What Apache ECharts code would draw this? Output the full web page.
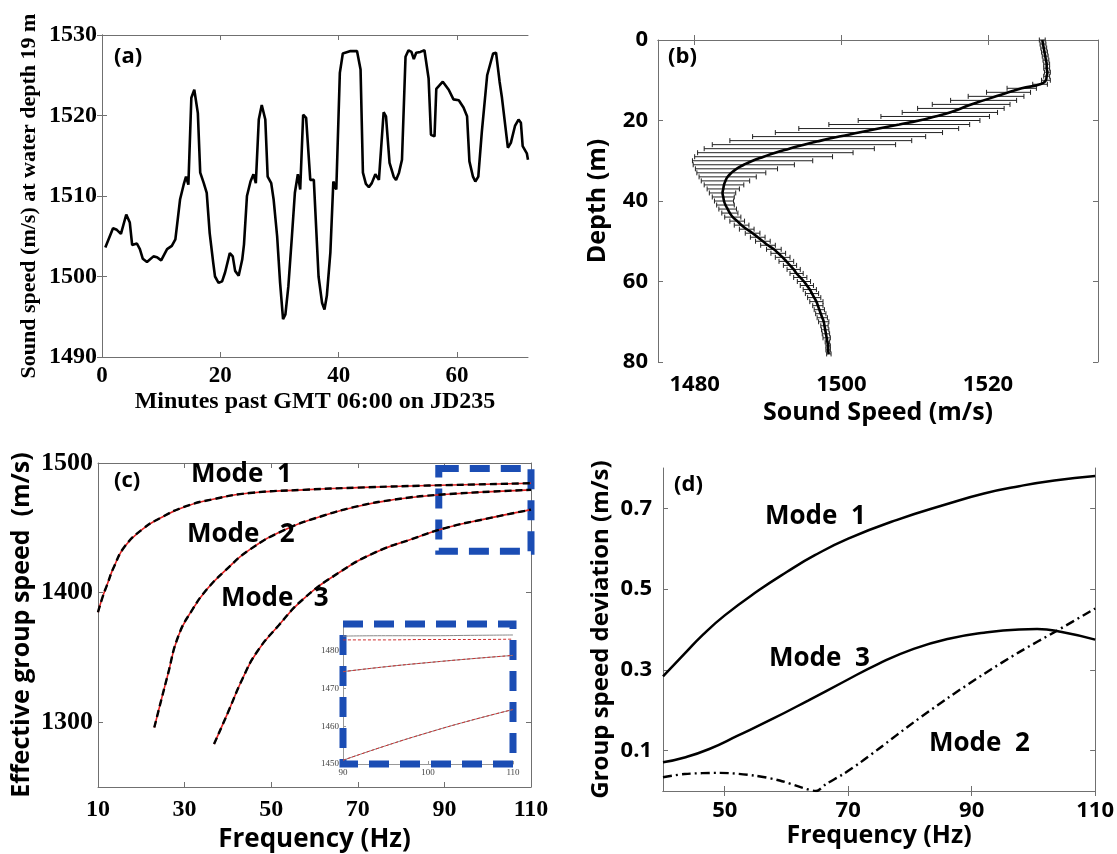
<!DOCTYPE html>
<html>
<head>
<meta charset="utf-8">
<script src="https://cdn.jsdelivr.net/npm/echarts@6/dist/echarts.min.js"></script>
<style>
  html, body { margin: 0; padding: 0; background: #fff; }
  #main { width: 1117px; height: 854px; }
</style>
</head>
<body>
<div id="main"></div>
<script>
// (a) sound speed time series at 19 m
var aMinutes = [0.56, 1.1, 1.86, 2.5, 3.2, 4.1, 4.7, 5.1, 5.9, 6.4, 6.9, 7.6, 8.7, 9.3, 10.0, 11.0, 11.8, 12.4, 12.8, 13.2,
  13.8, 14.2, 14.6, 15.1, 15.6, 16.2, 16.6, 17.2, 17.7, 18.2, 18.8, 19.1, 19.7, 20.3, 20.8, 21.6, 22.1, 22.5, 23.1, 23.7,
  24.0, 24.5, 25.1, 25.6, 26.0, 26.5, 27.0, 27.6, 28.0, 28.6, 29.0, 29.6, 30.1, 30.6, 31.0, 31.5, 32.1, 32.6, 33.1, 33.5,
  34.0, 34.5, 35.2, 35.8, 36.6, 37.2, 37.6, 38.0, 38.6, 39.1, 39.6, 40.2, 40.7, 42.0, 43.1, 43.7, 44.1, 44.6, 45.1, 45.6,
  46.2, 46.8, 47.6, 48.0, 48.6, 49.3, 49.7, 50.2, 50.7, 51.3, 51.8, 52.3, 52.7, 53.1, 53.8, 54.5, 54.8, 55.2, 55.6, 56.2,
  56.5, 57.6, 58.6, 59.4, 60.3, 61.1, 61.7, 62.1, 62.7, 63.1, 63.6, 64.2, 65.1, 66.1, 66.6, 67.2, 67.6, 68.6, 69.1, 69.8,
  70.4, 70.8, 71.1, 71.8, 72.0];
var aSpeed = [1503.6, 1504.6, 1506.0, 1505.8, 1505.3, 1507.7, 1506.7, 1503.9, 1504.1, 1503.4, 1502.2, 1501.8, 1502.5, 1502.4, 1502.0, 1503.4, 1503.8, 1504.6, 1507.1, 1509.6,
  1511.4, 1512.4, 1511.4, 1522.2, 1523.2, 1520.3, 1512.9, 1511.6, 1510.4, 1505.4, 1501.7, 1500.0, 1499.2, 1499.4, 1500.5, 1502.9, 1502.5, 1500.7, 1500.1, 1502.1,
  1504.0, 1510.0, 1511.8, 1512.7, 1511.6, 1519.5, 1521.3, 1519.5, 1512.4, 1511.6, 1509.6, 1505.0, 1499.2, 1494.7, 1495.3, 1498.8, 1505.0, 1510.4, 1512.7, 1510.8,
  1520.1, 1519.7, 1512.0, 1512.0, 1500.0, 1496.7, 1495.9, 1497.6, 1503.0, 1511.8, 1510.8, 1525.3, 1527.7, 1528.0, 1528.0, 1525.7, 1512.9, 1511.5, 1511.1, 1511.6,
  1512.7, 1512.0, 1520.4, 1519.9, 1514.1, 1512.4, 1512.0, 1512.9, 1514.5, 1527.3, 1528.1, 1527.9, 1527.0, 1527.8, 1527.9, 1528.1, 1527.9, 1524.6, 1517.6, 1517.4,
  1523.3, 1524.2, 1523.2, 1522.0, 1521.9, 1521.0, 1519.9, 1514.3, 1512.4, 1511.8, 1512.4, 1518.0, 1525.0, 1527.7, 1527.8, 1524.2, 1522.2, 1516.0, 1516.6, 1518.7,
  1519.5, 1519.1, 1516.2, 1515.3, 1514.5];

// (b) mean profile and spread, one value per metre
var bDepth = [0, 1, 2, 3, 4, 5, 6, 7, 8, 9, 10, 11, 12, 13, 14, 15, 16, 17, 18, 19, 20, 21, 22, 23, 24, 25, 26, 27, 28, 29,
  30, 31, 32, 33, 34, 35, 36, 37, 38, 39, 40, 41, 42, 43, 44, 45, 46, 47, 48, 49, 50, 51, 52, 53, 54, 55, 56, 57, 58, 59,
  60, 61, 62, 63, 64, 65, 66, 67, 68, 69, 70, 71, 72, 73, 74, 75, 76, 77, 78];
var bMean = [1527.4, 1527.5, 1527.6, 1527.7, 1527.8, 1527.9, 1528.0, 1528.0, 1528.1, 1528.0, 1527.9, 1527.1, 1524.6, 1522.8, 1521.1, 1519.4, 1517.7, 1516.3, 1514.8, 1512.8,
  1510.6, 1507.9, 1505.1, 1502.4, 1499.7, 1497.2, 1494.9, 1492.9, 1491.0, 1489.4, 1487.9, 1486.7, 1485.7, 1485.0, 1484.5, 1484.2, 1484.0, 1483.9, 1483.8, 1483.9,
  1484.0, 1484.2, 1484.5, 1484.8, 1485.2, 1485.8, 1486.4, 1487.1, 1487.9, 1488.6, 1489.3, 1490.0, 1490.8, 1491.4, 1492.0, 1492.5, 1493.0, 1493.5, 1493.9, 1494.4,
  1494.9, 1495.3, 1495.7, 1496.0, 1496.3, 1496.6, 1496.8, 1497.0, 1497.2, 1497.4, 1497.6, 1497.7, 1497.8, 1497.9, 1498.0, 1498.1, 1498.2, 1498.2, 1498.3];
var bStd = [0.4, 0.4, 0.4, 0.4, 0.4, 0.4, 0.4, 0.4, 0.4, 0.4, 0.6, 1.0, 2.0, 3.0, 3.8, 4.5, 5.3, 5.9, 6.5, 7.4,
  8.3, 9.6, 10.9, 11.4, 11.8, 12.4, 12.5, 11.6, 10.6, 9.4, 8.2, 6.9, 5.6, 4.7, 3.9, 3.3, 2.7, 2.2, 1.8, 1.5,
  1.3, 1.2, 1.2, 1.1, 1.1, 1.0, 1.0, 1.0, 1.0, 1.0, 1.0, 1.0, 1.0, 1.0, 1.0, 1.0, 0.9, 0.9, 0.9, 0.9,
  0.9, 0.9, 0.9, 0.9, 0.9, 0.9, 0.7, 0.7, 0.7, 0.7, 0.7, 0.5, 0.5, 0.5, 0.5, 0.3, 0.3, 0.3, 0.3];

// (c) effective group speed per mode
var cFreq1 = [10, 11, 12.1, 13.7, 16.2, 20.3, 24.4, 30.2, 36.8, 45, 57.4, 69.8, 86.3, 110];
var cSpeed1 = [1384.8, 1396, 1406, 1420, 1435.7, 1449, 1457.6, 1466.5, 1472.2, 1476.8, 1479.3, 1481, 1482.6, 1484.4];
var cFreq2 = [23.0, 26.1, 28.6, 31.9, 35.2, 39.3, 45.1, 53.3, 61.6, 69.8, 78.1, 88.8, 110];
var cSpeed2 = [1295.9, 1336.3, 1366.9, 1387.4, 1402.7, 1416.7, 1433.3, 1448.7, 1458.9, 1466.5, 1471.6, 1475.5, 1479.3];
var cFreq3 = [36.8, 40.1, 43.4, 46.7, 51.7, 57.4, 65.7, 73.9, 82.2, 90.4, 98.7, 110];
var cSpeed3 = [1283.1, 1308.2, 1333.7, 1354.2, 1374.6, 1395.0, 1415.5, 1430.8, 1441.0, 1450.0, 1456.3, 1464.0];

// (c) inset, 90-110 Hz
var inFreq = [90, 95, 100, 105, 110];
var inMode1Black = [1483.8, 1483.9, 1483.9, 1484.0, 1484.1];
var inMode1Red = [1482.8, 1482.8, 1482.9, 1482.9, 1483.0];
var inMode2 = [1474.4, 1475.7, 1476.8, 1477.8, 1478.7];
var inMode3 = [1451.0, 1454.8, 1458.3, 1461.5, 1464.4];
var zoomBox = [[88.7, 1495.7], [110.2, 1431.9]];

// (d) group speed deviation per mode
var dFreq1 = [40, 43.5, 46.4, 50, 55.5, 60.1, 64.6, 70, 77.8, 86.3, 92, 97.7, 103.4, 110];
var dDev1 = [0.284, 0.340, 0.386, 0.435, 0.497, 0.543, 0.584, 0.625, 0.671, 0.712, 0.737, 0.755, 0.769, 0.780];
var dFreq2 = [40, 43.5, 49.2, 54.9, 58.9, 62.4, 64.8, 66.4, 69.2, 72, 74.9, 80.6, 86.3, 92, 97.7, 103.7, 110];
var dDev2 = [0.034, 0.042, 0.045, 0.038, 0.026, 0.009, 0.0, 0.017, 0.042, 0.071, 0.104, 0.17, 0.232, 0.29, 0.344, 0.396, 0.452];
var dFreq3 = [40, 43.5, 47.5, 52.1, 57.8, 63.5, 69.2, 74.9, 80.6, 86.3, 92, 97.7, 100.6, 104.6, 110];
var dDev3 = [0.071, 0.083, 0.104, 0.137, 0.179, 0.224, 0.270, 0.315, 0.352, 0.377, 0.392, 0.400, 0.401, 0.394, 0.375];

var SANS = "'Open Sans', 'DejaVu Sans', sans-serif";
var SERIF = "'Liberation Serif', 'DejaVu Serif', serif";
var AXIS_COLOR = '#707070';
var BLUE = '#1b4db4';

function pairs(xs, ys) {
  return xs.map(function (x, i) { return [x, ys[i]]; });
}

function plain(v) { return String(v); }

// main axis plus a mirrored one (matlab style box with ticks on all sides)
function axisPair(kind, grid, min, max, ticks, label, name, nameCfg, extra) {
  var main = {
    type: 'value', gridIndex: grid, min: min, max: max,
    position: kind === 'x' ? 'bottom' : 'left',
    splitLine: { show: false },
    axisLine: { lineStyle: { color: AXIS_COLOR, width: 1 } },
    axisTick: { inside: true, length: 5, customValues: ticks, lineStyle: { color: AXIS_COLOR } },
    axisLabel: Object.assign({ customValues: ticks, color: '#000', fontWeight: 'bold', formatter: plain }, label),
    name: name, nameLocation: 'middle',
    nameGap: nameCfg.gap,
    nameTextStyle: { fontFamily: nameCfg.font, fontWeight: 'bold', fontSize: nameCfg.size, color: '#000' }
  };
  var mirror = {
    type: 'value', gridIndex: grid, min: min, max: max,
    position: kind === 'x' ? 'top' : 'right',
    splitLine: { show: false },
    axisLine: { lineStyle: { color: AXIS_COLOR, width: 1 } },
    axisTick: { inside: true, length: 5, customValues: ticks, lineStyle: { color: AXIS_COLOR } },
    axisLabel: { show: false }
  };
  if (extra) { Object.assign(main, extra); Object.assign(mirror, extra); }
  return [main, mirror];
}

var xAxes = [].concat(
  axisPair('x', 0, 0, 72, [0, 20, 40, 60], { fontFamily: SERIF, fontSize: 23, margin: 8 },
    'Minutes past GMT 06:00 on JD235', { gap: 33, font: SERIF, size: 24 }),
  axisPair('x', 1, 1475, 1535, [1480, 1500, 1520], { fontFamily: SANS, fontSize: 22, margin: 12 },
    'Sound Speed (m/s)', { gap: 38, font: SANS, size: 25 }),
  axisPair('x', 2, 10, 110, [10, 30, 50, 70, 90, 110], { fontFamily: SERIF, fontSize: 24, margin: 11 },
    'Frequency (Hz)', { gap: 40, font: SANS, size: 26 }),
  axisPair('x', 3, 40, 110, [50, 70, 90, 110], { fontFamily: SANS, fontSize: 22, margin: 9 },
    'Frequency (Hz)', { gap: 31, font: SANS, size: 25 })
);
xAxes.push({
  type: 'value', gridIndex: 4, min: 90, max: 110,
  splitLine: { show: false },
  axisLine: { lineStyle: { color: '#999', width: 1 } },
  axisTick: { inside: true, length: 3, customValues: [90, 100, 110], lineStyle: { color: '#999' } },
  axisLabel: { customValues: [90, 100, 110], formatter: plain, fontFamily: SERIF, fontSize: 9, color: '#444', margin: 4 }
});

var yAxes = [].concat(
  axisPair('y', 0, 1490, 1530, [1490, 1500, 1510, 1520, 1530], { fontFamily: SERIF, fontSize: 24, margin: 5 },
    'Sound speed (m/s) at water depth 19 m', { gap: 62, font: SERIF, size: 22 }),
  axisPair('y', 1, 0, 80, [0, 20, 40, 60, 80], { fontFamily: SANS, fontSize: 22, margin: 10 },
    'Depth (m)', { gap: 48, font: SANS, size: 25 }, { inverse: true }),
  axisPair('y', 2, 1250, 1500, [1300, 1400, 1500], { fontFamily: SERIF, fontSize: 26, margin: 5 },
    'Effective group speed  (m/s)', { gap: 64, font: SANS, size: 25 }),
  axisPair('y', 3, 0, 0.8, [0.1, 0.3, 0.5, 0.7], { fontFamily: SANS, fontSize: 22, margin: 11 },
    'Group speed deviation (m/s)', { gap: 50, font: SANS, size: 24 })
);
yAxes.push({
  type: 'value', gridIndex: 4, min: 1450, max: 1487,
  splitLine: { show: false },
  axisLine: { lineStyle: { color: '#999', width: 1 } },
  axisTick: { inside: true, length: 3, customValues: [1450, 1460, 1470, 1480], lineStyle: { color: '#999' } },
  axisLabel: { customValues: [1450, 1460, 1470, 1480], formatter: plain, fontFamily: SERIF, fontSize: 9, color: '#444', margin: 4 }
});

function errorBars(params, api) {
  var d = api.value(0);
  var p1 = api.coord([api.value(1), d]);
  var p2 = api.coord([api.value(2), d]);
  var h = 2.5;
  var st = { stroke: '#222', lineWidth: 1 };
  return {
    type: 'group',
    children: [
      { type: 'line', shape: { x1: p1[0], y1: p1[1], x2: p2[0], y2: p2[1] }, style: st },
      { type: 'line', shape: { x1: p1[0], y1: p1[1] - h, x2: p1[0], y2: p1[1] + h }, style: st },
      { type: 'line', shape: { x1: p2[0], y1: p2[1] - h, x2: p2[0], y2: p2[1] + h }, style: st }
    ]
  };
}

function modeLine(xIdx, xs, ys, opts) {
  return Object.assign({
    type: 'line', xAxisIndex: xIdx, yAxisIndex: xIdx,
    data: pairs(xs, ys), showSymbol: false, smooth: true, silent: true,
    lineStyle: { color: '#000', width: 2.5 }
  }, opts);
}

var boxStyle = { color: 'rgba(0,0,0,0)', borderColor: BLUE, borderWidth: 7, borderType: [20, 11] };

var series = [
  // (a)
  modeLine(0, aMinutes, aSpeed, { smooth: false, lineStyle: { color: '#000', width: 2.6 } }),
  // (b)
  {
    type: 'custom', xAxisIndex: 2, yAxisIndex: 2, silent: true,
    renderItem: errorBars,
    encode: { x: [1, 2], y: 0 },
    data: bDepth.map(function (d, i) { return [d, bMean[i] - bStd[i], bMean[i] + bStd[i]]; })
  },
  modeLine(2, bMean, bDepth, { z: 5, lineStyle: { color: '#000', width: 2.6 } }),
  // (c) red under black dashes
  modeLine(4, cFreq1, cSpeed1, { lineStyle: { color: '#e02020', width: 1.6 }, clip: false,
    markArea: { silent: true, itemStyle: boxStyle, data: [[{ coord: zoomBox[0] }, { coord: zoomBox[1] }]] } }),
  modeLine(4, cFreq1, cSpeed1, { lineStyle: { color: '#000', width: 2.4, type: [7, 4] } }),
  modeLine(4, cFreq2, cSpeed2, { lineStyle: { color: '#e02020', width: 1.6 } }),
  modeLine(4, cFreq2, cSpeed2, { lineStyle: { color: '#000', width: 2.4, type: [7, 4] } }),
  modeLine(4, cFreq3, cSpeed3, { lineStyle: { color: '#e02020', width: 1.6 } }),
  modeLine(4, cFreq3, cSpeed3, { lineStyle: { color: '#000', width: 2.4, type: [7, 4] } }),
  // (c) inset
  modeLine(8, inFreq, inMode1Black, { lineStyle: { color: '#888', width: 1 } }),
  modeLine(8, inFreq, inMode1Red, { lineStyle: { color: '#d03030', width: 1, type: [3, 2] } }),
  modeLine(8, inFreq, inMode2, { lineStyle: { color: '#888', width: 1 } }),
  modeLine(8, inFreq, inMode2, { lineStyle: { color: '#d03030', width: 1, type: [3, 2] } }),
  modeLine(8, inFreq, inMode3, { lineStyle: { color: '#888', width: 1 } }),
  modeLine(8, inFreq, inMode3, { lineStyle: { color: '#d03030', width: 1, type: [3, 2] }, clip: false,
    markArea: { silent: true, itemStyle: boxStyle, data: [[{ coord: [90, 1487] }, { coord: [110, 1450] }]] } }),
  // (d)
  modeLine(6, dFreq1, dDev1),
  modeLine(6, dFreq3, dDev3),
  modeLine(6, dFreq2, dDev2, { smooth: 0.3, lineStyle: { color: '#000', width: 2.4, type: [9, 4, 2, 4] } })
];

function label(text, left, top, size) {
  return {
    type: 'text', left: left, top: top, z: 10,
    style: { text: text, fill: '#000', font: 'bold ' + size + 'px ' + SANS }
  };
}

var option = {
  backgroundColor: '#fff',
  animation: false,
  grid: [
    { left: 102, top: 35, width: 426, height: 322 },
    { left: 658, top: 40, width: 440, height: 322 },
    { left: 98, top: 463, width: 433, height: 328 },
    { left: 663, top: 468, width: 435, height: 323 },
    { left: 343, top: 624, width: 170, height: 140, show: true, backgroundColor: '#fff', borderWidth: 0 }
  ],
  xAxis: xAxes,
  yAxis: yAxes,
  series: series,
  graphic: [
    label('(a)', 114, 46, 22),
    label('(b)', 668, 46, 22),
    label('(c)', 114, 470, 22),
    label('(d)', 674, 474, 22),
    label('Mode  1', 191, 462, 26),
    label('Mode   2', 187, 522, 26),
    label('Mode   3', 221, 586, 26),
    label('Mode  1', 765, 504, 26),
    label('Mode  3', 769, 646, 26),
    label('Mode  2', 929, 731, 26)
  ]
};

var chart = echarts.init(document.getElementById('main'));
chart.setOption(option);
</script>
</body>
</html>
